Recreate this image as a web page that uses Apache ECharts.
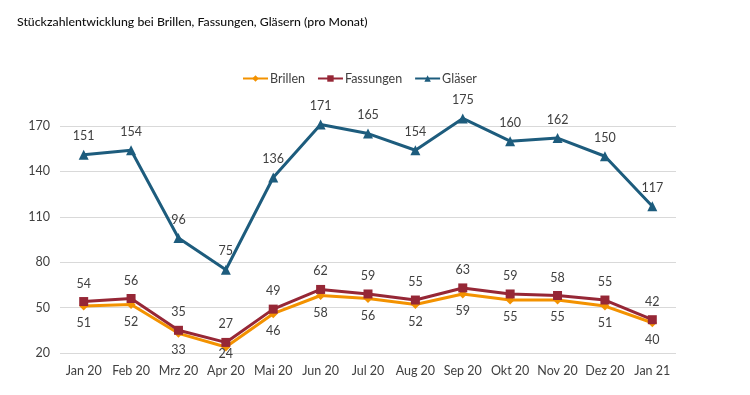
<!DOCTYPE html>
<html><head><meta charset="utf-8">
<script src="https://cdn.jsdelivr.net/npm/echarts@6/dist/echarts.min.js"></script>
<style>html,body{margin:0;padding:0;background:#fff}#c{width:750px;height:395px}</style>
</head><body><div id="c"></div>
<script>
const categories = ['Jan 20','Feb 20','Mrz 20','Apr 20','Mai 20','Jun 20','Jul 20','Aug 20','Sep 20','Okt 20','Nov 20','Dez 20','Jan 21'];
const brillen = [51,52,33,24,46,58,56,52,59,55,55,51,40];
const fassungen = [54,56,35,27,49,62,59,55,63,59,58,55,42];
const glaeser = [151,154,96,75,136,171,165,154,175,160,162,150,117];
const yTicks = [20,50,80,110,140,170];

const font = 'Lato, "Open Sans", sans-serif';
const chart = echarts.init(document.getElementById('c'));
const lbl = (pos, d) => ({show:true, position:pos, distance:d, color:'#404040', fontSize:12.5, fontFamily:font});
const brillenData = brillen.map((v, i) => i === 3 ? {value:v, label:{distance:-4}} : v);
chart.setOption({
  animation:false,
  title:{text:'Stückzahlentwicklung bei Brillen, Fassungen, Gläsern (pro Monat)', left:12, top:11,
    textStyle:{fontSize:12.3, fontWeight:500, color:'#111', fontFamily:font}},
  legend:{top:67, left:237, itemWidth:25, itemHeight:8, itemGap:12,
    textStyle:{fontSize:12.5, color:'#404040', fontFamily:font, padding:[0,0,0,-3]}},
  grid:{left:60, right:74, top:126, bottom:42},
  xAxis:{type:'category', data:categories, boundaryGap:true,
    axisLine:{show:false}, axisTick:{show:false},
    axisLabel:{interval:0, color:'#404040', fontSize:12.5, margin:11, fontFamily:font}},
  yAxis:{type:'value', min:yTicks[0], max:yTicks[yTicks.length-1], interval:30,
    axisLine:{show:false}, axisTick:{show:false},
    axisLabel:{color:'#404040', fontSize:12.5, margin:10, fontFamily:font},
    splitLine:{lineStyle:{color:'#d9d9d9', width:1}}},
  series:[
    {name:'Brillen', type:'line', data:brillenData, symbol:'diamond', symbolSize:9, clip:false,
      itemStyle:{color:'#f39200'}, lineStyle:{width:3, color:'#f39200'}, label:lbl('bottom', 6), z:3},
    {name:'Fassungen', type:'line', data:fassungen, symbol:'rect', symbolSize:9, clip:false,
      itemStyle:{color:'#962736'}, lineStyle:{width:3, color:'#962736'}, label:lbl('top', 7), z:4},
    {name:'Gläser', type:'line', data:glaeser, symbol:'triangle', symbolSize:10, clip:false,
      itemStyle:{color:'#1d5c7d'}, lineStyle:{width:3, color:'#1d5c7d'}, label:lbl('top', 7), z:5}
  ]
});
</script></body></html>
